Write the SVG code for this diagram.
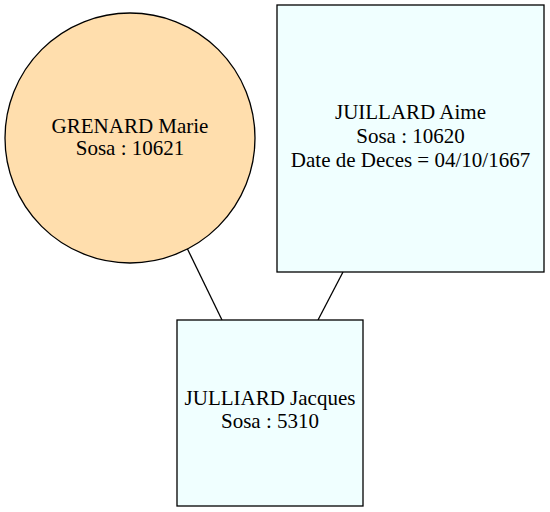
<svg xmlns="http://www.w3.org/2000/svg" width="550" height="512" viewBox="0 0 550 512">
<style>
.n{stroke:#000;stroke-width:1.3}
.f{fill:#f0ffff}
.c{fill:#ffdead}
text{font-family:"Liberation Serif","Times New Roman",serif;font-size:21px;text-anchor:middle;fill:#000}
.e{stroke:#000;stroke-width:1.3;fill:none}
</style>
<rect width="550" height="512" fill="#fff"/>
<g id="edges">
<line class="e" x1="187" y1="248" x2="222" y2="320"/>
<line class="e" x1="343" y1="272" x2="318" y2="320"/>
</g>
<g id="grenard">
<circle class="n c" cx="130" cy="138" r="125"/>
<text x="130" y="133">GRENARD Marie</text>
<text x="130" y="155">Sosa : 10621</text>
</g>
<g id="juillard">
<rect class="n f" x="277" y="5" width="267" height="267"/>
<text x="410.5" y="119">JUILLARD Aime</text>
<text x="410.5" y="143">Sosa : 10620</text>
<text x="410.5" y="167">Date de Deces = 04/10/1667</text>
</g>
<g id="julliard">
<rect class="n f" x="177" y="320" width="186" height="186"/>
<text x="270" y="405">JULLIARD Jacques</text>
<text x="270" y="428">Sosa : 5310</text>
</g>
</svg>
